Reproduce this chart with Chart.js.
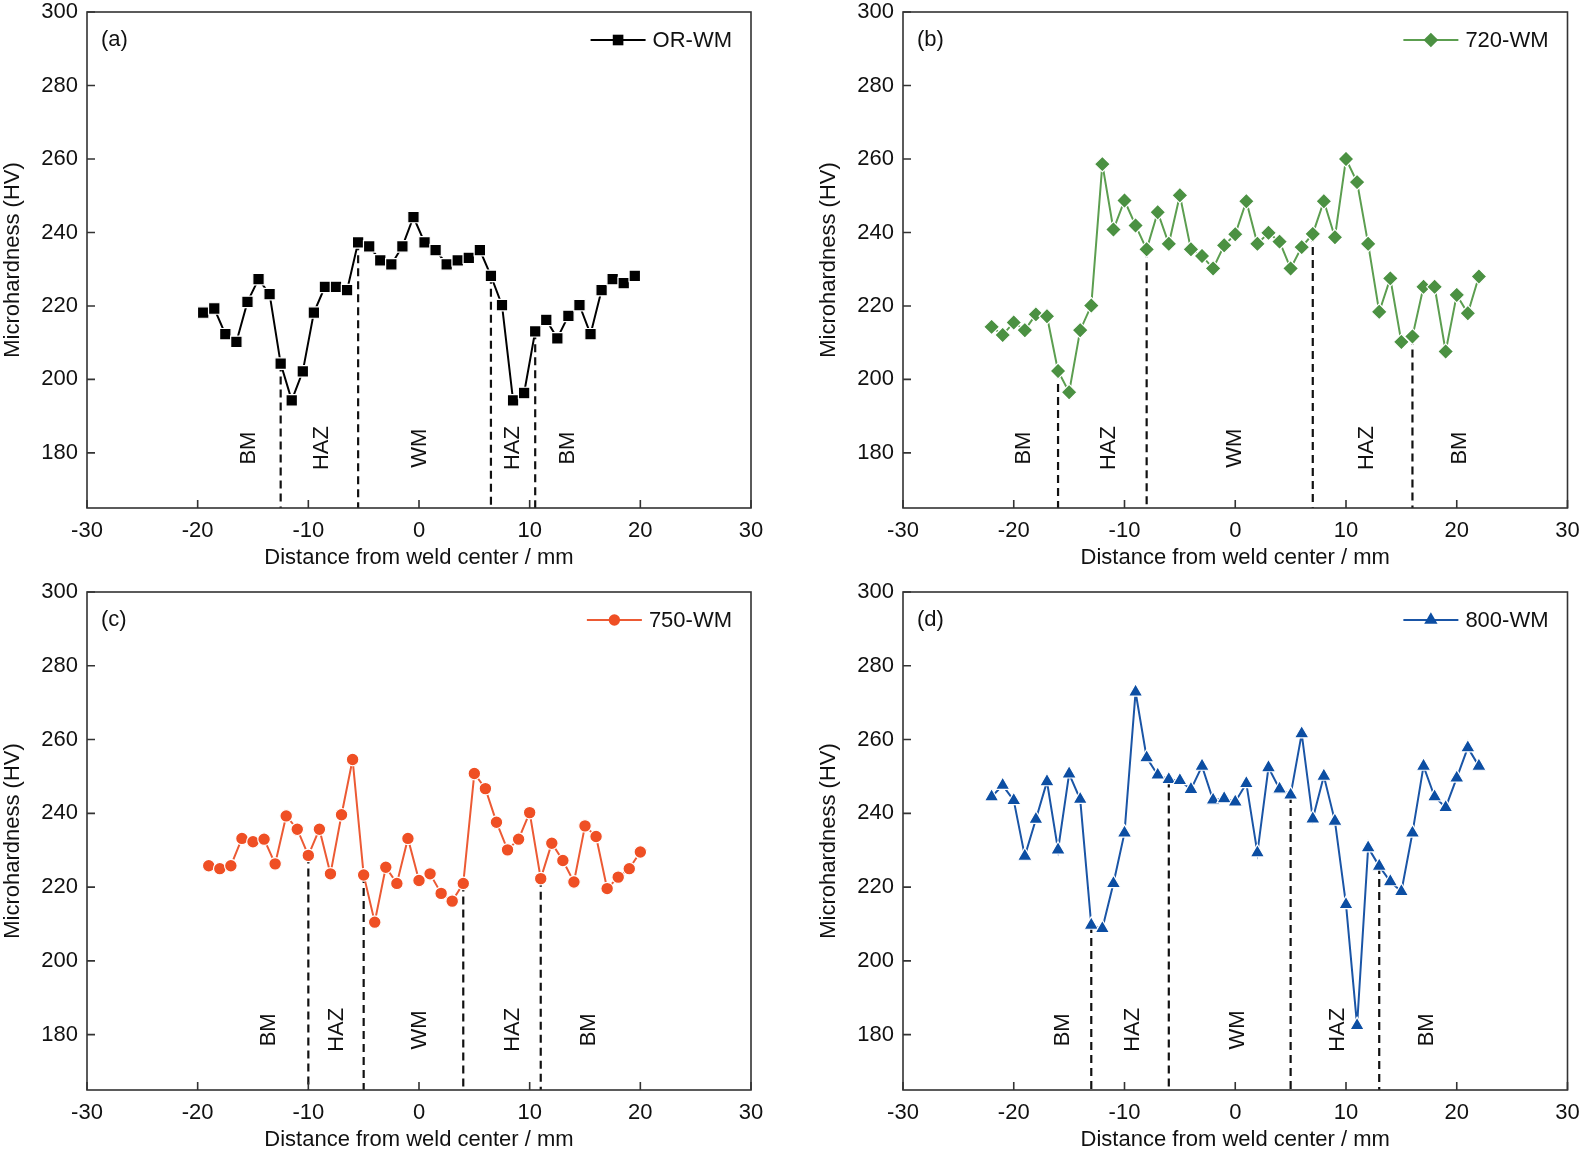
<!DOCTYPE html>
<html>
<head>
<meta charset="utf-8">
<script src="https://cdn.jsdelivr.net/npm/chart.js@4.4.1/dist/chart.umd.min.js"></script>
<style>
  html, body { margin: 0; padding: 0; background: #fff; }
  body { width: 1583px; height: 1153px; position: relative; overflow: hidden; }
  canvas { position: absolute; }
</style>
</head>
<body>
<canvas id="cA" width="795" height="578" style="left:0;top:0"></canvas>
<canvas id="cB" width="783" height="578" style="left:800px;top:0"></canvas>
<canvas id="cC" width="795" height="575" style="left:0;top:578px"></canvas>
<canvas id="cD" width="783" height="575" style="left:800px;top:578px"></canvas>
<script>
// ticks shared by all four panels
const xTicks = [-30, -20, -10, 0, 10, 20, 30];
const yTicks = [180, 200, 220, 240, 260, 280, 300];

// (a) OR-WM
const orX = [-19.5, -18.5, -17.5, -16.5, -15.5, -14.5, -13.5, -12.5, -11.5, -10.5,
  -9.5, -8.5, -7.5, -6.5, -5.5, -4.5, -3.5, -2.5, -1.5, -0.5,
  0.5, 1.5, 2.5, 3.5, 4.5, 5.5, 6.5, 7.5, 8.5, 9.5,
  10.5, 11.5, 12.5, 13.5, 14.5, 15.5, 16.5, 17.5, 18.5, 19.5];
const orHV = [218.2, 219.3, 212.3, 210.2, 221.1, 227.3, 223.2, 204.3, 194.3, 202.2,
  218.2, 225.2, 225.2, 224.3, 237.3, 236.2, 232.4, 231.3, 236.2, 244.2,
  237.3, 235.2, 231.3, 232.4, 233.1, 235.2, 228.2, 220.2, 194.3, 196.3,
  213.1, 216.2, 211.2, 217.3, 220.2, 212.3, 224.3, 227.3, 226.2, 228.2];
const orBounds = [-12.5, -5.5, 6.5, 10.5];

// (b) 720-WM
const w720X = [-22, -21, -20, -19, -18, -17, -16, -15, -14, -13, -12, -11, -10, -9, -8,
  -7, -6, -5, -4, -3, -2, -1, 0, 1, 2, 3, 4, 5, 6, 7,
  8, 9, 10, 11, 12, 13, 14, 15, 16, 17, 18, 19, 20, 21, 22];
const w720HV = [214.3, 212.1, 215.5, 213.4, 217.7, 217.2, 202.3, 196.5, 213.4, 220.1,
  258.6, 240.8, 248.7, 241.9, 235.4, 245.5, 236.9, 250.1, 235.4, 233.6,
  230.2, 236.5, 239.5, 248.5, 236.9, 239.9, 237.5, 230.2, 236.0, 239.6,
  248.5, 238.7, 260.0, 253.7, 236.9, 218.4, 227.5, 210.2, 211.7, 225.2,
  225.2, 207.6, 223.0, 218.0, 228.0];
const w720Bounds = [-16, -8, 7, 16];

// (c) 750-WM
const w750X = [-19, -18, -17, -16, -15, -14, -13, -12, -11, -10,
  -9, -8, -7, -6, -5, -4, -3, -2, -1, 0,
  1, 2, 3, 4, 5, 6, 7, 8, 9, 10,
  11, 12, 13, 14, 15, 16, 17, 18, 19, 20];
const w750HV = [225.8, 225.0, 225.8, 233.2, 232.3, 233.0, 226.3, 239.3, 235.7, 228.6,
  235.7, 223.6, 239.6, 254.6, 223.3, 210.5, 225.4, 221.0, 233.2, 221.8,
  223.6, 218.3, 216.2, 221.0, 250.8, 246.7, 237.6, 230.1, 233.0, 240.2,
  222.3, 231.9, 227.2, 221.4, 236.6, 233.7, 219.6, 222.7, 225.0, 229.5];
const w750Bounds = [-10, -5, 4, 11];

// (d) 800-WM
const w800X = [-22, -21, -20, -19, -18, -17, -16, -15, -14, -13, -12, -11, -10, -9, -8,
  -7, -6, -5, -4, -3, -2, -1, 0, 1, 2, 3, 4, 5, 6, 7,
  8, 9, 10, 11, 12, 13, 14, 15, 16, 17, 18, 19, 20, 21, 22];
const w800HV = [244.5, 247.6, 243.5, 228.4, 238.4, 248.6, 230.1, 250.7, 243.8, 209.7,
  208.8, 221.0, 234.7, 272.9, 255.1, 250.4, 249.2, 248.9, 246.5, 252.8,
  243.6, 244.0, 243.1, 248.1, 229.3, 252.4, 246.6, 245.0, 261.6, 238.5,
  250.1, 237.9, 215.3, 182.5, 230.7, 225.7, 221.5, 218.8, 234.7, 252.8,
  244.5, 241.6, 249.6, 257.8, 252.8];
const w800Bounds = [-13, -6, 5, 13];

const zoneNames = ['BM', 'HAZ', 'WM', 'HAZ', 'BM'];

const FONT = '"Liberation Sans", Arial, Helvetica, sans-serif';
const TXT = '#111';

function marker(ctx, style, x, y, r) {
  ctx.beginPath();
  if (style === 'rect') {
    const s = r * Math.SQRT1_2;
    ctx.rect(x - s, y - s, 2 * s, 2 * s);
  } else if (style === 'rectRot') {
    ctx.moveTo(x, y - r); ctx.lineTo(x + r, y); ctx.lineTo(x, y + r); ctx.lineTo(x - r, y);
    ctx.closePath();
  } else if (style === 'triangle') {
    const h = r * Math.sin(Math.PI / 3);
    ctx.moveTo(x, y - r); ctx.lineTo(x + h, y + r / 2); ctx.lineTo(x - h, y + r / 2);
    ctx.closePath();
  } else {
    ctx.arc(x, y, r, 0, Math.PI * 2);
  }
  ctx.fill();
}

function makeDeco(p) {
  return {
    id: 'deco',
    beforeDatasetsDraw(chart) {
      const { ctx, chartArea: a, scales: { x, y } } = chart;
      ctx.save();
      ctx.setLineDash([8, 5]);
      ctx.lineWidth = 2.2;
      ctx.strokeStyle = '#111';
      p.bounds.forEach(b => {
        const i = p.xs.indexOf(b);
        const px = x.getPixelForValue(b);
        ctx.beginPath();
        ctx.moveTo(px, y.getPixelForValue(p.ys[i]));
        ctx.lineTo(px, a.bottom);
        ctx.stroke();
      });
      ctx.restore();
    },
    afterDraw(chart) {
      const { ctx, chartArea: a, scales: { x, y } } = chart;
      ctx.save();
      // frame
      ctx.strokeStyle = '#333';
      ctx.lineWidth = 1.6;
      ctx.strokeRect(a.left, a.top, a.right - a.left, a.bottom - a.top);
      // inward ticks
      ctx.beginPath();
      xTicks.forEach(v => {
        const px = x.getPixelForValue(v);
        ctx.moveTo(px, a.bottom); ctx.lineTo(px, a.bottom - 8);
      });
      yTicks.forEach(v => {
        const py = y.getPixelForValue(v);
        ctx.moveTo(a.left, py); ctx.lineTo(a.left + 8, py);
      });
      ctx.stroke();

      ctx.fillStyle = TXT;
      ctx.font = '22px ' + FONT;
      // zone labels, rotated
      p.zones.forEach((zx, i) => {
        ctx.save();
        ctx.translate(x.getPixelForValue(zx), y.getPixelForValue(181.3));
        ctx.rotate(-Math.PI / 2);
        ctx.textAlign = 'center';
        ctx.textBaseline = 'middle';
        ctx.fillText(zoneNames[i], 0, 0);
        ctx.restore();
      });
      // panel tag
      ctx.textAlign = 'left';
      ctx.textBaseline = 'middle';
      ctx.fillText(p.tag, a.left + 14, a.top + 28);
      // legend
      const ly = a.top + 28;
      const tw = ctx.measureText(p.label).width;
      const tx = a.right - 19 - tw;
      ctx.fillText(p.label, tx, ly + 1);
      ctx.strokeStyle = p.line;
      ctx.lineWidth = 2;
      ctx.beginPath();
      ctx.moveTo(tx - 62, ly); ctx.lineTo(tx - 7, ly);
      ctx.stroke();
      ctx.fillStyle = p.fill;
      marker(ctx, p.marker, tx - 34.5, ly, p.r - 0.6);
      // axis titles
      ctx.fillStyle = TXT;
      ctx.textAlign = 'center';
      ctx.fillText('Distance from weld center / mm', (a.left + a.right) / 2, a.bottom + 50);
      ctx.save();
      ctx.translate(a.left - 74, (a.top + a.bottom) / 2);
      ctx.rotate(-Math.PI / 2);
      ctx.fillText('Microhardness (HV)', 0, 0);
      ctx.restore();
      ctx.restore();
    }
  };
}

function makeChart(id, p) {
  const c = document.getElementById(id);
  new Chart(c, {
    type: 'line',
    data: {
      datasets: [{
        label: p.label,
        data: p.xs.map((v, i) => ({ x: v, y: p.ys[i] })),
        borderColor: p.line,
        borderWidth: 2,
        backgroundColor: p.fill,
        pointBackgroundColor: p.fill,
        pointBorderColor: '#ffffff',
        pointBorderWidth: 1.2,
        pointStyle: p.marker,
        pointRadius: p.r,
        tension: 0
      }]
    },
    options: {
      responsive: false,
      animation: false,
      events: [],
      layout: { padding: { left: 0, top: p.top, right: c.width - p.right, bottom: 0 } },
      plugins: { legend: { display: false }, tooltip: { enabled: false } },
      scales: {
        x: {
          type: 'linear', min: -30, max: 30,
          grid: { display: false, drawTicks: false },
          border: { display: false },
          ticks: { color: TXT, padding: 10, font: { size: 22, family: FONT } },
          afterBuildTicks: s => { s.ticks = xTicks.map(v => ({ value: v })); },
          afterFit: s => { s.height = c.height - p.bottom; s.paddingLeft = 0; s.paddingRight = 0; }
        },
        y: {
          type: 'linear', min: 165, max: 300,
          grid: { display: false, drawTicks: false },
          border: { display: false },
          ticks: { color: TXT, padding: 9, font: { size: 22, family: FONT } },
          afterBuildTicks: s => { s.ticks = yTicks.map(v => ({ value: v })); },
          afterFit: s => { s.width = p.left; s.paddingTop = 0; s.paddingBottom = 0; }
        }
      }
    },
    plugins: [makeDeco(p)]
  });
}

makeChart('cA', {
  tag: '(a)', label: 'OR-WM', xs: orX, ys: orHV, bounds: orBounds,
  zones: [-15.4, -8.8, 0.1, 8.5, 13.5],
  line: '#000000', fill: '#000000', marker: 'rect', r: 8.1,
  left: 87, right: 751, top: 12, bottom: 508
});
makeChart('cB', {
  tag: '(b)', label: '720-WM', xs: w720X, ys: w720HV, bounds: w720Bounds,
  zones: [-19.1, -11.4, 0, 11.9, 20.3],
  line: '#5c9e50', fill: '#4b9142', marker: 'rectRot', r: 7.9,
  left: 103, right: 767.5, top: 12, bottom: 508
});
makeChart('cC', {
  tag: '(c)', label: '750-WM', xs: w750X, ys: w750HV, bounds: w750Bounds,
  zones: [-13.6, -7.4, 0.1, 8.5, 15.4],
  line: '#ec5a34', fill: '#ef4f24', marker: 'circle', r: 6.3,
  left: 87, right: 751, top: 14, bottom: 512
});
makeChart('cD', {
  tag: '(d)', label: '800-WM', xs: w800X, ys: w800HV, bounds: w800Bounds,
  zones: [-15.6, -9.2, 0.2, 9.3, 17.3],
  line: '#1a55a6', fill: '#0c4ea3', marker: 'triangle', r: 8.3,
  left: 103, right: 767.5, top: 14, bottom: 512
});
</script>
</body>
</html>
